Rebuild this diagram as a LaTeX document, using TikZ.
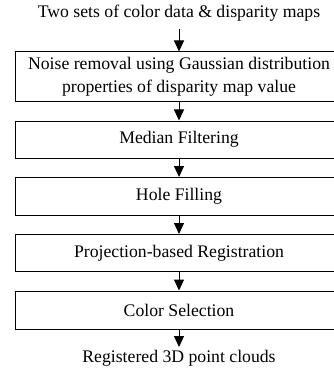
\documentclass[tikz,border=0pt]{standalone}
\usepackage{fontspec}
\setmainfont{Liberation Serif}
\usetikzlibrary{arrows.meta}
\begin{document}
\begin{tikzpicture}[x=1pt,y=-1pt,
  stepbox/.style={draw=black,line width=1pt,minimum width=328pt,inner sep=0pt,align=center,
    font=\fontsize{17.7}{23}\selectfont},
  plain/.style={inner sep=0pt,font=\fontsize{17.7}{23}\selectfont},
  flow/.style={line width=1pt,-{Triangle[length=11pt,width=10pt]}}]
\useasboundingbox (0,0) rectangle (333,377);
\node[plain] (src) at (179,13) {Two sets of color data \& disparity maps};
\coordinate (srcend) at (179,29);
\node[stepbox,minimum height=50pt] (b1) at (179,77) {Noise removal using Gaussian distribution\\properties of disparity map value};
\node[stepbox,minimum height=37.5pt] (b2) at (179,139.75) {Median Filtering};
\node[stepbox,minimum height=37.5pt] (b3) at (179,196.25) {Hole Filling};
\node[stepbox,minimum height=37pt] (b4) at (179,253) {Projection-based Registration};
\node[stepbox,minimum height=38pt] (b5) at (179,310) {Color Selection};
\coordinate (outtip) at (179,347);
\node[plain] (out) at (179,358) {Registered 3D point clouds};
\draw[flow] (srcend) -- (b1);
\draw[flow] (b1) -- (b2);
\draw[flow] (b2) -- (b3);
\draw[flow] (b3) -- (b4);
\draw[flow] (b4) -- (b5);
\draw[flow] (b5) -- (outtip);
\end{tikzpicture}
\end{document}
